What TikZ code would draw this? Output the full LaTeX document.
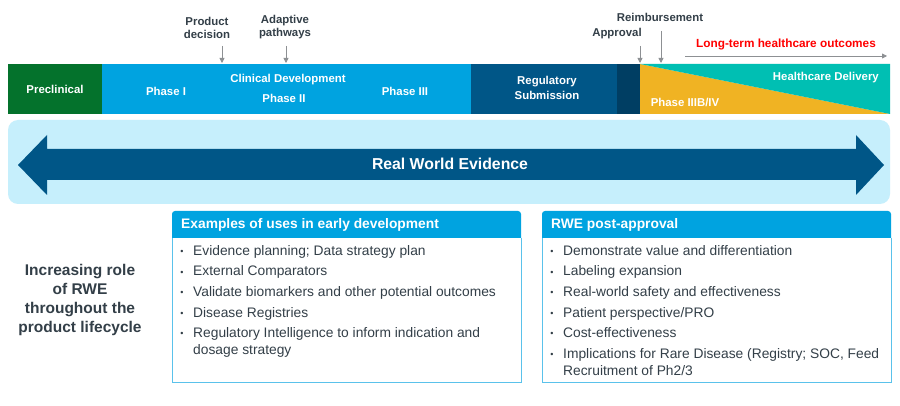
\documentclass[tikz,border=0pt]{standalone}
\usepackage{fontspec}
\setmainfont{Liberation Sans}
\usetikzlibrary{arrows.meta}
\definecolor{cgreen}{RGB}{4,114,44}
\definecolor{cblue}{RGB}{0,163,224}
\definecolor{creg}{RGB}{0,86,135}
\definecolor{cnavy}{RGB}{0,62,99}
\definecolor{corange}{RGB}{240,179,35}
\definecolor{cteal}{RGB}{0,191,179}
\definecolor{cband}{RGB}{198,239,252}
\definecolor{cdark}{RGB}{51,63,72}
\definecolor{cgrayarr}{RGB}{141,144,147}
\definecolor{cred}{RGB}{255,0,0}
\definecolor{cboxline}{RGB}{90,194,235}
\tikzset{
  barlbl/.style={text=white, font=\fontsize{11.4}{15}\selectfont\bfseries, align=center, inner sep=0},
  toplbl/.style={text=cdark, font=\fontsize{11.4}{13}\selectfont\bfseries, align=center, inner sep=0},
  grayarr/.style={draw=cgrayarr, line width=0.8pt, -{Triangle[length=5pt,width=5pt]}},
  hdr/.style={text=white, font=\fontsize{13.8}{15}\selectfont\bfseries, anchor=west, inner sep=0},
  bul/.style={text=cdark, font=\fontsize{9}{10}\selectfont, anchor=center, inner sep=0},
  itm/.style={text=cdark, font=\fontsize{13.8}{17}\selectfont, anchor=base west, inner sep=0},
}
\newcommand{\bitem}[4]{%
  \node[bul] (b#1) at (#2,#3+2.7) {\textbullet};
  \node[itm] (t#1) at (#2+11,#3+5) {#4};}
\begin{document}
\begin{tikzpicture}[x=1pt,y=-1pt]
\fill[white] (0,0) rectangle (900,406);
\useasboundingbox (0,0) rectangle (900,406);
% timeline bar
\fill[cgreen] (8,64) rectangle (102,114);
\fill[cblue] (102,64) rectangle (471,114);
\fill[creg] (471,64) rectangle (617,114);
\fill[cnavy] (617,64) rectangle (640,114);
\fill[corange] (640,64) -- (890,114) -- (640,114) -- cycle;
\fill[cteal] (640,64) -- (890,64) -- (890,114) -- cycle;
\node[barlbl] (pre) at (55,89) {Preclinical};
\node[barlbl] (p1) at (166,91) {Phase I};
\node[barlbl] (cd) at (288,80) {Clinical Development};
\node[barlbl] (p2) at (284,98) {Phase II};
\node[barlbl] (p3) at (405,91) {Phase III};
\node[barlbl] (rs) at (547,88) {Regulatory\\Submission};
\node[barlbl, anchor=east] (hd) at (879,78) {Healthcare Delivery};
\node[barlbl] (p3b) at (685,102) {Phase IIIB/IV};
% top labels and arrows
\node[toplbl] (pdl) at (207,27.5) {Product\\decision};
\node[toplbl] (apl) at (285,27.5) {Adaptive\\pathways};
\node[toplbl] (reim) at (660,17) {Reimbursement};
\node[toplbl] (appr) at (617,34) {Approval};
\node[text=cred, font=\fontsize{11.8}{13}\selectfont\bfseries, inner sep=0] (lt) at (786,44) {Long-term healthcare outcomes};
\coordinate (pda) at (222,46); \coordinate (pdb) at (222,63);
\coordinate (apa) at (286,46); \coordinate (apb) at (286,63);
\coordinate (ara) at (640,46); \coordinate (arb) at (640,63);
\coordinate (rma) at (661,31); \coordinate (rmb) at (661,63);
\coordinate (lta) at (685,56); \coordinate (ltb) at (887,56);
\draw[grayarr] (pda) -- (pdb);
\draw[grayarr] (apa) -- (apb);
\draw[grayarr] (ara) -- (arb);
\draw[grayarr] (rma) -- (rmb);
\draw[grayarr] (lta) -- (ltb);
% RWE band
\fill[cband, rounded corners=10pt] (8,120) rectangle (890,204);
\fill[creg] (18,165) -- (47,135) -- (47,149) -- (856,149) -- (856,135) -- (884,165)
  -- (856,195) -- (856,180) -- (47,180) -- (47,195) -- cycle;
\node[text=white, font=\fontsize{15.8}{17}\selectfont\bfseries, inner sep=0] (rwe) at (450,164) {Real World Evidence};
% left text
\node[text=cdark, font=\fontsize{15.5}{19}\selectfont\bfseries, align=center, inner sep=0] (role) at (80,299.5)
  {Increasing role\\of RWE\\throughout the\\product lifecycle};
% box 1
\fill[cblue] (172,238) [rounded corners=3pt] -- (172,211) -- (521,211) [sharp corners] -- (521,238) -- cycle;
\draw[cboxline, line width=1pt] (172,238) -- (172,382) -- (521,382) -- (521,238);
\node[hdr] (h1) at (181,225) {Examples of uses in early development};
\bitem{a1}{182}{250}{Evidence planning; Data strategy plan}
\bitem{a2}{182}{271}{External Comparators}
\bitem{a3}{182}{291}{Validate biomarkers and other potential outcomes}
\bitem{a4}{182}{312}{Disease Registries}
\bitem{a5}{182}{332}{Regulatory Intelligence to inform indication and}
\node[itm] (ta5b) at (193,354) {dosage strategy};
% box 2
\fill[cblue] (542,238) [rounded corners=3pt] -- (542,211) -- (891,211) [sharp corners] -- (891,238) -- cycle;
\draw[cboxline, line width=1pt] (542,238) -- (542,382) -- (891,382) -- (891,238);
\node[hdr] (h2) at (551,225) {RWE post-approval};
\bitem{c1}{552}{250}{Demonstrate value and differentiation}
\bitem{c2}{552}{271}{Labeling expansion}
\bitem{c3}{552}{291}{Real-world safety and effectiveness}
\bitem{c4}{552}{312}{Patient perspective/PRO}
\bitem{c5}{552}{332}{Cost-effectiveness}
\bitem{c6}{552}{353}{Implications for Rare Disease (Registry; SOC, Feed}
\node[itm] (tc6b) at (563,375) {Recruitment of Ph2/3};
\end{tikzpicture}
\end{document}
